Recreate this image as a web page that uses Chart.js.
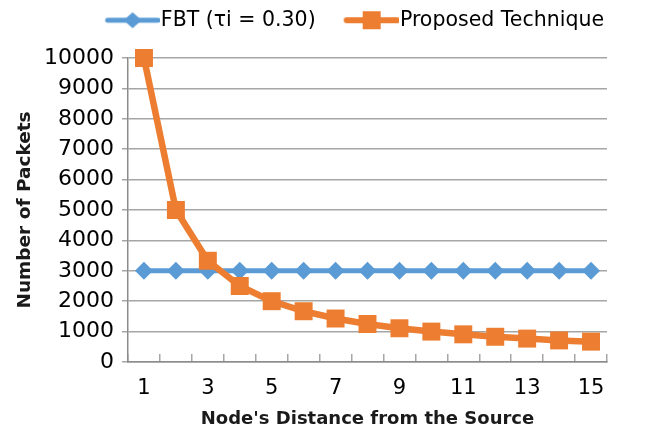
<!DOCTYPE html>
<html>
<head>
<meta charset="utf-8">
<script src="https://cdn.jsdelivr.net/npm/chart.js@4"></script>
<style>
  html, body { margin: 0; padding: 0; background: #fff; }
  #wrap { width: 659px; height: 434px; }
</style>
</head>
<body>
<div id="wrap"><canvas id="packetChart" width="659" height="434"></canvas></div>
<script>
// Chart values
const distances = ["1", "2", "3", "4", "5", "6", "7", "8", "9", "10", "11", "12", "13", "14", "15"];
const fbtPackets = [3000, 3000, 3000, 3000, 3000, 3000, 3000, 3000, 3000, 3000, 3000, 3000, 3000, 3000, 3000];
const proposedPackets = [10000, 5000, 3330, 2500, 2000, 1670, 1430, 1250, 1110, 1000, 910, 830, 770, 710, 670];
const yTicksMax = 10000;

const blue = "#5B9BD5";
const orange = "#ED7D31";
const gridGray = "#A6A6A6";

// small canvas used as legend symbol: line with the marker in the middle
// (canvas is wider on the left so the text sits close to the line)
function legendSymbol(color, lineW, marker) {
    const c = document.createElement("canvas");
    c.width = 62;
    c.height = 22;
    const ctx = c.getContext("2d");
    ctx.strokeStyle = color;
    ctx.fillStyle = color;
    ctx.lineWidth = lineW;
    ctx.lineCap = "round";
    ctx.beginPath();
    ctx.moveTo(10, 11);
    ctx.lineTo(60, 11);
    ctx.stroke();
    ctx.beginPath();
    const cx = 35;
    if (marker === "diamond") {
        ctx.moveTo(cx - 9, 11);
        ctx.lineTo(cx, 11 - 8);
        ctx.lineTo(cx + 9, 11);
        ctx.lineTo(cx, 11 + 8);
        ctx.closePath();
        ctx.fill();
    } else {
        ctx.fillRect(cx - 9, 11 - 9, 18, 18);
    }
    return c;
}

const symbols = [legendSymbol(blue, 5, "diamond"), legendSymbol(orange, 6, "square")];

// fix the legend height and nudge its items into place
const legendHeightPlugin = {
    id: "legendHeight",
    beforeLayout(chart) {
        const lg = chart.legend;
        if (lg && !lg._patched) {
            const origFit = lg.fit;
            lg.fit = function () {
                origFit.call(this);
                this.height = 58;
            };
            const origDraw = lg.draw;
            lg.draw = function () {
                const ctx = this.ctx;
                ctx.save();
                ctx.translate(27, -20);
                origDraw.call(this);
                ctx.restore();
            };
            lg._patched = true;
        }
    }
};

const chart = new Chart(document.getElementById("packetChart"), {
    type: "line",
    data: {
        labels: distances,
        datasets: [
            {
                label: "FBT (\u03C4i = 0.30)",
                data: fbtPackets,
                borderColor: blue,
                backgroundColor: blue,
                borderWidth: 5,
                pointStyle: "rectRot",
                pointRadius: 9,
                pointBorderWidth: 0,
                tension: 0,
                clip: false,
                order: 1
            },
            {
                label: "Proposed Technique",
                data: proposedPackets,
                borderColor: orange,
                backgroundColor: orange,
                borderWidth: 6.5,
                pointStyle: "rect",
                pointRadius: 12.7,
                pointBorderWidth: 0,
                tension: 0,
                clip: false,
                order: 0
            }
        ]
    },
    options: {
        responsive: false,
        animation: false,
        layout: { padding: { top: 0, right: 52, bottom: 0, left: 0 } },
        plugins: {
            tooltip: { enabled: false },
            legend: {
                position: "top",
                align: "end",
                labels: {
                    usePointStyle: true,
                    pointStyleWidth: 44,
                    padding: 30,
                    color: "#000",
                    font: { family: "DejaVu Sans", size: 20.5 },
                    generateLabels(ch) {
                        return ch.data.datasets.map((ds, i) => ({
                            text: ds.label,
                            pointStyle: symbols[i],
                            fillStyle: ds.borderColor,
                            strokeStyle: ds.borderColor,
                            lineWidth: 0,
                            fontColor: "#000",
                            hidden: false,
                            datasetIndex: i
                        }));
                    }
                }
            }
        },
        scales: {
            x: {
                type: "category",
                offset: true,
                grid: {
                    offset: true,
                    drawOnChartArea: false,
                    drawTicks: true,
                    tickLength: -8,
                    tickColor: gridGray,
                    lineWidth: 1.5
                },
                border: { color: "#8C8C8C", width: 1.5 },
                ticks: {
                    autoSkip: false,
                    maxRotation: 0,
                    padding: 22,
                    color: "#000",
                    font: { family: "DejaVu Sans", size: 21 },
                    callback(value, index) {
                        return index % 2 === 0 ? this.getLabelForValue(value) : "";
                    }
                },
                title: {
                    display: true,
                    text: "Node's Distance from the Source",
                    color: "#1a1a1a",
                    font: { family: "DejaVu Sans", size: 18, weight: "bold" },
                    padding: { top: 0, bottom: 4 }
                },
                afterFit(scale) {
                    scale.height = 72;
                }
            },
            y: {
                min: 0,
                max: yTicksMax,
                ticks: {
                    stepSize: 1000,
                    padding: 8,
                    color: "#000",
                    font: { family: "DejaVu Sans", size: 22 },
                    callback: (value) => String(value)
                },
                grid: {
                    color: gridGray,
                    lineWidth: 1.5,
                    tickLength: 6
                },
                border: { color: "#8C8C8C", width: 1.5 },
                title: {
                    display: true,
                    text: "Number of Packets",
                    color: "#1a1a1a",
                    font: { family: "DejaVu Sans", size: 18.5, weight: "bold" },
                    padding: { top: 14, bottom: 0 }
                },
                afterFit(scale) {
                    scale.width = 128;
                }
            }
        }
    },
    plugins: [legendHeightPlugin]
});
</script>
</body>
</html>
